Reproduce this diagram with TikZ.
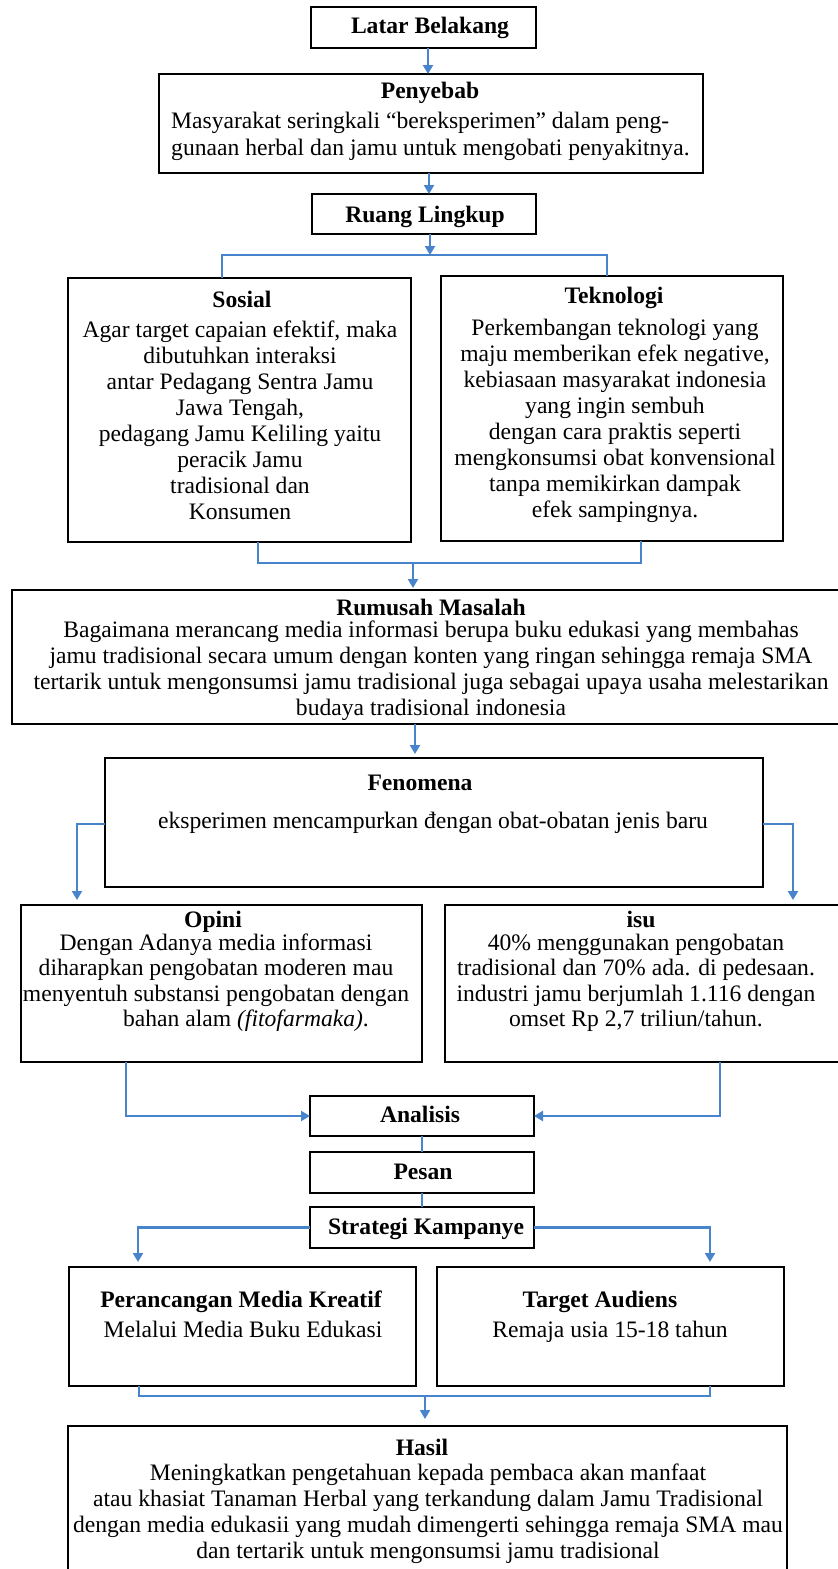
\documentclass[tikz,border=0pt]{standalone}
\usepackage{fontspec}
\setmainfont{Liberation Serif}
\usetikzlibrary{arrows.meta}
\definecolor{conblue}{RGB}{72,132,204}
\newcommand\mkbox[5]{\node[boxst, minimum width={(#4-#2)*1pt}, minimum height={(#5-#3)*1pt}] (#1) at ({(#2+#4)/2},{(#3+#5)/2}) {};}
\tikzset{
  boxst/.style={draw=black, line width=2.4pt, rectangle, inner sep=0pt, outer sep=0pt},
  con/.style={draw=conblue, line width=2.2pt},
  arr/.style={con, -{Triangle[width=10pt,length=9pt]}},
  ttl/.style={font=\fontsize{23.6}{26}\selectfont\bfseries, inner sep=0pt, anchor=base},
  bdy/.style={font=\fontsize{23.6}{26}\selectfont, inner sep=0pt, align=center, anchor=north},
  one/.style={font=\fontsize{23.6}{26}\selectfont, inner sep=0pt, anchor=base},
}
\begin{document}
\begin{tikzpicture}[x=1pt,y=-1pt]
\useasboundingbox (0,0) rectangle (838,1569);
\fill[white] (0,0) rectangle (838,1569);
\clip (0,0) rectangle (838,1569);

% boxes
\mkbox{latar}{311}{7}{536}{48}
\mkbox{peny}{159}{74}{703}{173}
\mkbox{ruang}{312}{194}{536}{234}
\mkbox{sosial}{68}{278}{411}{542}
\mkbox{tekno}{441}{276}{783}{541}
\mkbox{rumusan}{12}{590}{848}{724}
\mkbox{fenomena}{105}{758}{763}{887}
\mkbox{opini}{21}{905}{422}{1062}
\mkbox{isu}{445}{905}{848}{1062}
\mkbox{analisis}{310}{1096}{534}{1136}
\mkbox{pesan}{310}{1152}{534}{1193}
\mkbox{strategi}{310}{1207}{534}{1248}
\mkbox{peranc}{69}{1267}{416}{1386}
\mkbox{target}{437}{1267}{784}{1386}
\mkbox{hasil}{68}{1426}{787}{1620}

% texts
\node[ttl] (tlatar) at (430,33) {Latar Belakang};
\node[ttl] (tpeny) at (430,98) {Penyebab};
\node[bdy, align=left, anchor=north west, font=\fontsize{23.6}{27}\selectfont] (bpeny) at (171,109.1)
  {\strut Masyarakat seringkali “bereksperimen” dalam peng-\\gunaan herbal dan jamu untuk mengobati penyakitnya.};
\node[ttl] (truang) at (425,222) {Ruang Lingkup};

\node[ttl] (tsosial) at (242,307) {Sosial};
\node[bdy] (bsosial) at (240,318.8) {\strut Agar target capaian efektif, maka\\dibutuhkan interaksi\\antar Pedagang Sentra Jamu\\Jawa Tengah,\\pedagang Jamu Keliling yaitu\\peracik Jamu\\tradisional dan\\Konsumen};

\node[ttl] (ttekno) at (614,303) {Teknologi};
\node[bdy] (btekno) at (615,316.8) {\strut Perkembangan teknologi yang\\maju memberikan efek negative,\\kebiasaan masyarakat indonesia\\yang ingin sembuh\\dengan cara praktis seperti\\mengkonsumsi obat konvensional\\tanpa memikirkan dampak\\efek sampingnya.};

\node[ttl] (trumusan) at (431,615) {Rumusah Masalah};
\node[bdy] (brumusan) at (431,618.8) {\strut Bagaimana merancang media informasi berupa buku edukasi yang membahas\\jamu tradisional secara umum dengan konten yang ringan sehingga remaja SMA\\tertarik untuk mengonsumsi jamu tradisional juga sebagai upaya usaha melestarikan\\budaya tradisional indonesia};

\node[ttl] (tfenomena) at (420,790) {Fenomena};
\node[one] (bfenomena) at (433,828) {eksperimen mencampurkan đengan obat-obatan jenis baru};

\node[ttl] (topini) at (213,927) {Opini};
\node[bdy, font=\fontsize{23.6}{25.5}\selectfont] (bopini) at (216,932.15) {\strut Dengan Adanya media informasi\\diharapkan pengobatan moderen mau\\menyentuh substansi pengobatan dengan\\\hspace*{60pt}bahan alam \textit{(fitofarmaka)}.};

\node[ttl] (tisu) at (641,927) {isu};
\node[bdy, font=\fontsize{23.6}{25.5}\selectfont] (bisu) at (636,932.15) {\strut 40\% menggunakan pengobatan\\tradisional dan 70\% ada. di pedesaan.\\industri jamu berjumlah 1.116 dengan\\omset Rp 2,7 triliun/tahun.};

\node[ttl] (tanalisis) at (420,1122) {Analisis};
\node[ttl] (tpesan) at (423,1179) {Pesan};
\node[ttl] (tstrategi) at (426,1234) {Strategi Kampanye};

\node[ttl] (tperanc) at (241,1307) {Perancangan Media Kreatif};
\node[one] (bperanc) at (243,1337) {Melalui Media Buku Edukasi};
\node[ttl] (ttarget) at (600,1307) {Target Audiens};
\node[one] (btarget) at (610,1337) {Remaja usia 15-18 tahun};

\node[ttl] (thasil) at (422,1455) {Hasil};
\node[bdy] (bhasil) at (428,1461.8) {\strut Meningkatkan pengetahuan kepada pembaca akan manfaat\\atau khasiat Tanaman Herbal yang terkandung dalam Jamu Tradisional\\dengan media edukasii yang mudah dimengerti sehingga remaja SMA mau\\dan tertarik untuk mengonsumsi jamu tradisional};

% connectors
\draw[arr] ([xshift=4.5pt]latar.south) -- ([xshift=4.5pt]latar.south |- peny.north);
\draw[arr] ([xshift=-2pt]peny.south) -- ([xshift=-2pt]peny.south |- ruang.north);
\coordinate (hl) at (222,255);
\coordinate (hr) at (607,255);
\draw[arr] ([xshift=6pt]ruang.south) -- ([xshift=6pt]ruang.south |- hl);
\draw[con] (sosial.north -| hl) -- (hl) -- (hr) -- (tekno.north -| hr);

\coordinate (bl) at (258,563);
\coordinate (br) at (641,563);
\coordinate (bm) at (413,563);
\draw[con] (sosial.south -| bl) -- (bl) -- (br) -- (tekno.south -| br);
\draw[arr, shorten >=2pt] (bm) -- (bm |- rumusan.north);

\coordinate (rf) at (415,724);
\draw[arr, shorten >=4pt] (rf) -- (rf |- fenomena.north);

\coordinate (fl) at (77,824);
\coordinate (fr) at (793,824);
\draw[arr, shorten >=5pt] (fenomena.west |- fl) -- (fl) -- (fl |- opini.north);
\draw[arr, shorten >=5pt] (fenomena.east |- fr) -- (fr) -- (fr |- isu.north);

\coordinate (ol) at (126,1116);
\coordinate (ir) at (720,1116);
\draw[arr] (opini.south -| ol) -- (ol) -- (analisis.west);
\draw[arr] (isu.south -| ir) -- (ir) -- (analisis.east);

\draw[con] (analisis.south) -- (pesan.north);
\draw[con] (pesan.south) -- (strategi.north);

\coordinate (sl) at (138,1227.5);
\coordinate (sr) at (710,1227.5);
\draw[arr, shorten >=5pt] (strategi.west) -- (sl) -- (sl |- peranc.north);
\draw[arr, shorten >=5pt] (strategi.east) -- (sr) -- (sr |- target.north);

\coordinate (pl) at (139,1396);
\coordinate (pr) at (710,1396);
\coordinate (pm) at (425,1396);
\draw[con] (peranc.south -| pl) -- (pl) -- (pr) -- (target.south -| pr);
\draw[arr, shorten >=7pt] (pm) -- (pm |- hasil.north);
\end{tikzpicture}
\end{document}
